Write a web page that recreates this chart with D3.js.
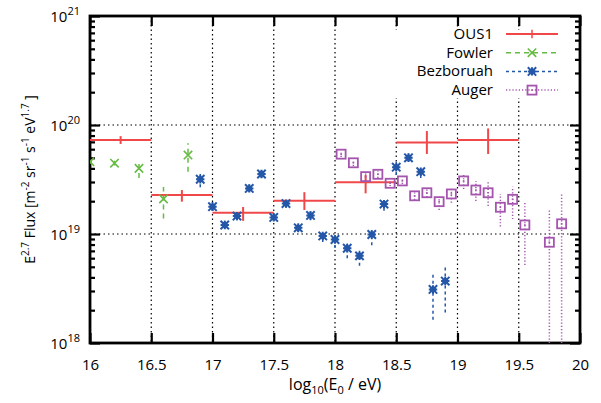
<!DOCTYPE html>
<html>
<head>
<meta charset="utf-8">
<script src="https://d3js.org/d3.v7.min.js"></script>
<style>
  body { margin: 0; background: #fff; }
  text { font-family: "Open Sans", "DejaVu Sans", sans-serif; fill: #000; }
</style>
</head>
<body>
<div id="chart"></div>
<script>
var W = 601, H = 403;
var margin = {left: 90, right: 21, top: 16, bottom: 60};

// OUS1: bin centre, bin edges, flux and error range
var ousX = [16.25, 16.75, 17.25, 17.75, 18.25, 18.75, 19.25];
var ousXlo = [16.0, 16.5, 17.0, 17.5, 18.0, 18.5, 19.0];
var ousXhi = [16.5, 17.0, 17.5, 18.0, 18.5, 19.0, 19.5];
var ousY = [7.3e19, 2.28e19, 1.57e19, 2.02e19, 2.98e19, 6.9e19, 7.3e19];
var ousLo = [6.7e19, 1.98e19, 1.32e19, 1.66e19, 2.36e19, 5.42e19, 5.42e19];
var ousHi = [7.9e19, 2.53e19, 1.77e19, 2.42e19, 3.48e19, 8.8e19, 9.3e19];

// Fowler
var fowX = [16.0, 16.2, 16.4, 16.6, 16.8];
var fowY = [4.6e19, 4.46e19, 4.0e19, 2.1e19, 5.3e19];
var fowLo = [4.4e19, 4.25e19, 3.26e19, 1.39e19, 3.73e19];
var fowHi = [4.8e19, 4.7e19, 4.5e19, 2.7e19, 6.8e19];

// Bezboruah
var bezX = [16.9, 17.0, 17.1, 17.2, 17.3, 17.4, 17.5, 17.6, 17.7, 17.8, 17.9,
            18.0, 18.1, 18.2, 18.3, 18.4, 18.5, 18.6, 18.7, 18.8, 18.9];
var bezY = [3.18e19, 1.78e19, 1.21e19, 1.46e19, 2.62e19, 3.55e19, 1.42e19, 1.90e19, 1.14e19, 1.48e19, 9.6e18,
            8.9e18, 7.4e18, 6.3e18, 9.9e18, 1.88e19, 4.1e19, 5.0e19, 3.73e19, 3.1e18, 3.7e18];
var bezLo = [2.68e19, 1.63e19, 1.11e19, 1.34e19, 2.43e19, 3.26e19, 1.32e19, 1.75e19, 1.04e19, 1.34e19, 8.45e18,
             7.45e18, 5.98e18, 5.1e18, 7.9e18, 1.63e19, 3.48e19, 4.6e19, 3.26e19, 1.63e18, 1.9e18];
var bezHi = [3.55e19, 1.97e19, 1.32e19, 1.59e19, 2.84e19, 3.86e19, 1.56e19, 2.05e19, 1.25e19, 1.63e19, 1.07e19,
             9.8e18, 8.2e18, 7.3e18, 1.11e19, 2.1e19, 4.6e19, 5.5e19, 4.2e19, 4.4e18, 5.2e18];

// Auger
var augX = [18.05, 18.15, 18.25, 18.35, 18.45, 18.55, 18.65, 18.75, 18.85, 18.95,
            19.05, 19.15, 19.25, 19.35, 19.45, 19.55, 19.75, 19.85];
var augY = [5.4e19, 4.5e19, 3.36e19, 3.53e19, 2.92e19, 3.07e19, 2.24e19, 2.39e19, 1.98e19, 2.33e19,
            3.07e19, 2.53e19, 2.39e19, 1.76e19, 2.08e19, 1.21e19, 8.4e18, 1.24e19];
var augLo = [5.08e19, 4.21e19, 3.06e19, 3.27e19, 2.75e19, 2.88e19, 2.05e19, 2.18e19, 1.66e19, 1.94e19,
             2.59e19, 2.01e19, 1.81e19, 1.17e19, 1.37e19, 5.2e18, 1e18, 1e18];
var augHi = [5.77e19, 4.82e19, 3.71e19, 3.78e19, 3.1e19, 3.27e19, 2.43e19, 2.59e19, 2.2e19, 2.64e19,
             3.48e19, 3.06e19, 3.0e19, 2.33e19, 2.72e19, 1.94e19, 1.69e19, 2.39e19];

var xTicks = [16, 16.5, 17, 17.5, 18, 18.5, 19, 19.5, 20];
var yExps = [18, 19, 20, 21];

var cRed = "#f04848", cGreen = "#66bb44", cBlue = "#2457a8", cPurple = "#a455ae";

var svg = d3.select("#chart").append("svg")
    .attr("width", W)
    .attr("height", H);

var x = d3.scaleLinear().domain([16, 20]).range([margin.left, W - margin.right]);
var y = d3.scaleLog().domain([1e18, 1e21]).range([H - margin.bottom, margin.top]);

var defs = svg.append("defs");
defs.append("clipPath").attr("id", "clip")
  .append("rect")
    .attr("x", margin.left).attr("y", margin.top)
    .attr("width", W - margin.left - margin.right)
    .attr("height", H - margin.top - margin.bottom);

// grid
var grid = svg.append("g");
xTicks.slice(1, -1).forEach(function(t) {
  grid.append("line")
      .attr("x1", x(t)).attr("x2", x(t))
      .attr("y1", margin.top).attr("y2", H - margin.bottom)
      .attr("stroke", "#000").attr("stroke-width", 1.2)
      .attr("stroke-dasharray", "1.5,3");
});
yExps.slice(1, -1).forEach(function(e) {
  grid.append("line")
      .attr("x1", margin.left).attr("x2", W - margin.right)
      .attr("y1", y(Math.pow(10, e))).attr("y2", y(Math.pow(10, e)))
      .attr("stroke", "#000").attr("stroke-width", 1.2)
      .attr("stroke-dasharray", "1.5,3");
});

// legend box hides the grid behind it
svg.append("rect")
    .attr("x", 392).attr("y", 30)
    .attr("width", 185).attr("height", 68)
    .attr("fill", "#fff");

// ticks on all four sides
var minor = [];
for (var e = 18; e < 21; e++) {
  for (var m = 2; m <= 9; m++) minor.push(m * Math.pow(10, e));
}

var yAxisL = d3.axisLeft(y).tickValues(minor).tickSize(-5).tickFormat("");
var yAxisR = d3.axisRight(y).tickValues(minor).tickSize(-5).tickFormat("");
svg.append("g").attr("transform", "translate(" + margin.left + ",0)").call(yAxisL);
svg.append("g").attr("transform", "translate(" + (W - margin.right) + ",0)").call(yAxisR);
svg.append("g").attr("transform", "translate(" + margin.left + ",0)")
    .call(d3.axisLeft(y).tickValues(yExps.map(function(e) { return Math.pow(10, e); })).tickSize(-10).tickFormat(""));
svg.append("g").attr("transform", "translate(" + (W - margin.right) + ",0)")
    .call(d3.axisRight(y).tickValues(yExps.map(function(e) { return Math.pow(10, e); })).tickSize(-10).tickFormat(""));

var xAxisB = d3.axisBottom(x).tickValues(xTicks).tickSize(-10).tickPadding(16)
    .tickFormat(function(d) { return d; });
var gxb = svg.append("g").attr("transform", "translate(0," + (H - margin.bottom) + ")").call(xAxisB);
svg.append("g").attr("transform", "translate(0," + margin.top + ")")
    .call(d3.axisTop(x).tickValues(xTicks).tickSize(-10).tickFormat(""));

svg.selectAll(".tick line").attr("stroke", "#000").attr("stroke-width", 2.2);
svg.selectAll(".domain").remove();
gxb.selectAll("text").attr("font-size", 15).attr("font-family", "'Open Sans', sans-serif").attr("fill", "#000");

// y tick labels with superscripts
yExps.forEach(function(e) {
  var t = svg.append("text")
      .attr("x", 80).attr("y", y(Math.pow(10, e)) + 6)
      .attr("text-anchor", "end")
      .attr("font-size", 15);
  t.append("tspan").text("10");
  t.append("tspan").attr("dy", -7).attr("font-size", 11).text(e);
});

// frame
svg.append("rect")
    .attr("x", margin.left).attr("y", margin.top)
    .attr("width", W - margin.left - margin.right)
    .attr("height", H - margin.top - margin.bottom)
    .attr("fill", "none").attr("stroke", "#000").attr("stroke-width", 2.8);

// axis labels
var xl = svg.append("text")
    .attr("x", (margin.left + W - margin.right) / 2).attr("y", 390)
    .attr("text-anchor", "middle").attr("font-size", 16);
xl.append("tspan").text("log");
xl.append("tspan").attr("dy", 4).attr("font-size", 11).text("10");
xl.append("tspan").attr("dy", -4).text("(E");
xl.append("tspan").attr("dy", 4).attr("font-size", 11).text("0");
xl.append("tspan").attr("dy", -4).text(" / eV)");

var yl = svg.append("text")
    .attr("transform", "translate(35," + ((margin.top + H - margin.bottom) / 2) + ") rotate(-90)")
    .attr("text-anchor", "middle").attr("font-size", 14);
yl.append("tspan").text("E");
yl.append("tspan").attr("dy", -6).attr("font-size", 10).text("2.7");
yl.append("tspan").attr("dy", 6).text(" Flux [m");
yl.append("tspan").attr("dy", -6).attr("font-size", 10).text("-2");
yl.append("tspan").attr("dy", 6).text(" sr");
yl.append("tspan").attr("dy", -6).attr("font-size", 10).text("-1");
yl.append("tspan").attr("dy", 6).text(" s");
yl.append("tspan").attr("dy", -6).attr("font-size", 10).text("-1");
yl.append("tspan").attr("dy", 6).text(" eV");
yl.append("tspan").attr("dy", -6).attr("font-size", 10).text("1.7");
yl.append("tspan").attr("dy", 6).text(" ]");

// markers
function drawMarker(g, kind, cx, cy, color) {
  var s = 4.2;
  if (kind === "plus") {
    g.append("path").attr("d", "M" + (cx - s) + "," + cy + "H" + (cx + s) + "M" + cx + "," + (cy - s) + "V" + (cy + s))
      .attr("stroke", color).attr("stroke-width", 1.5).attr("fill", "none");
  } else if (kind === "cross") {
    g.append("path").attr("d", "M" + (cx - s) + "," + (cy - s) + "L" + (cx + s) + "," + (cy + s) +
        "M" + (cx - s) + "," + (cy + s) + "L" + (cx + s) + "," + (cy - s))
      .attr("stroke", color).attr("stroke-width", 1.6).attr("fill", "none");
  } else if (kind === "star") {
    g.append("path").attr("d", "M" + (cx - s) + "," + (cy - s) + "L" + (cx + s) + "," + (cy + s) +
        "M" + (cx - s) + "," + (cy + s) + "L" + (cx + s) + "," + (cy - s) +
        "M" + (cx - s) + "," + cy + "H" + (cx + s) + "M" + cx + "," + (cy - s) + "V" + (cy + s))
      .attr("stroke", color).attr("stroke-width", 2).attr("fill", "none");
    g.append("circle").attr("cx", cx).attr("cy", cy).attr("r", 3).attr("fill", color);
  } else if (kind === "square") {
    g.append("rect").attr("x", cx - 4.5).attr("y", cy - 4.5).attr("width", 9).attr("height", 9)
      .attr("stroke", color).attr("stroke-width", 1.8).attr("fill", "none");
    g.append("rect").attr("x", cx - 0.8).attr("y", cy - 0.8).attr("width", 1.6).attr("height", 1.6)
      .attr("fill", color);
  }
}

var plot = svg.append("g").attr("clip-path", "url(#clip)");

function drawSeries(xs, ys, los, his, color, dash, kind, width) {
  var g = plot.append("g");
  xs.forEach(function(xv, i) {
    g.append("line")
        .attr("x1", x(xv)).attr("x2", x(xv))
        .attr("y1", y(los[i])).attr("y2", y(his[i]))
        .attr("stroke", color).attr("stroke-width", width)
        .attr("stroke-dasharray", dash);
  });
  xs.forEach(function(xv, i) {
    drawMarker(g, kind, x(xv), y(ys[i]), color);
  });
}

// OUS1 bins
var go = plot.append("g");
ousX.forEach(function(xv, i) {
  go.append("line")
      .attr("x1", x(ousXlo[i])).attr("x2", x(ousXhi[i]))
      .attr("y1", y(ousY[i])).attr("y2", y(ousY[i]))
      .attr("stroke", cRed).attr("stroke-width", 2);
  go.append("line")
      .attr("x1", x(xv)).attr("x2", x(xv))
      .attr("y1", y(ousLo[i])).attr("y2", y(ousHi[i]))
      .attr("stroke", cRed).attr("stroke-width", 2);
});

drawSeries(fowX, fowY, fowLo, fowHi, cGreen, "5,4", "cross", 1.5);
drawSeries(bezX, bezY, bezLo, bezHi, cBlue, "3,3", "star", 1.5);
drawSeries(augX, augY, augLo, augHi, cPurple, "1.2,2", "square", 1.5);

// legend
var legend = [
  {name: "OUS1", color: cRed, dash: null, kind: "plus"},
  {name: "Fowler", color: cGreen, dash: "5,4", kind: "cross"},
  {name: "Bezboruah", color: cBlue, dash: "3,3", kind: "star"},
  {name: "Auger", color: cPurple, dash: "1.2,2", kind: "square"}
];
var lg = svg.append("g");
legend.forEach(function(d, i) {
  var ly = 34 + i * 18.7;
  lg.append("text").attr("x", 493).attr("y", ly + 5).attr("text-anchor", "end")
      .attr("font-size", 15).text(d.name);
  lg.append("line").attr("x1", 506).attr("x2", 558).attr("y1", ly).attr("y2", ly)
      .attr("stroke", d.color).attr("stroke-width", d.kind === "plus" ? 2 : 1.5)
      .attr("stroke-dasharray", d.dash);
  drawMarker(lg, d.kind, 532, ly, d.color);
});
</script>
</body>
</html>
